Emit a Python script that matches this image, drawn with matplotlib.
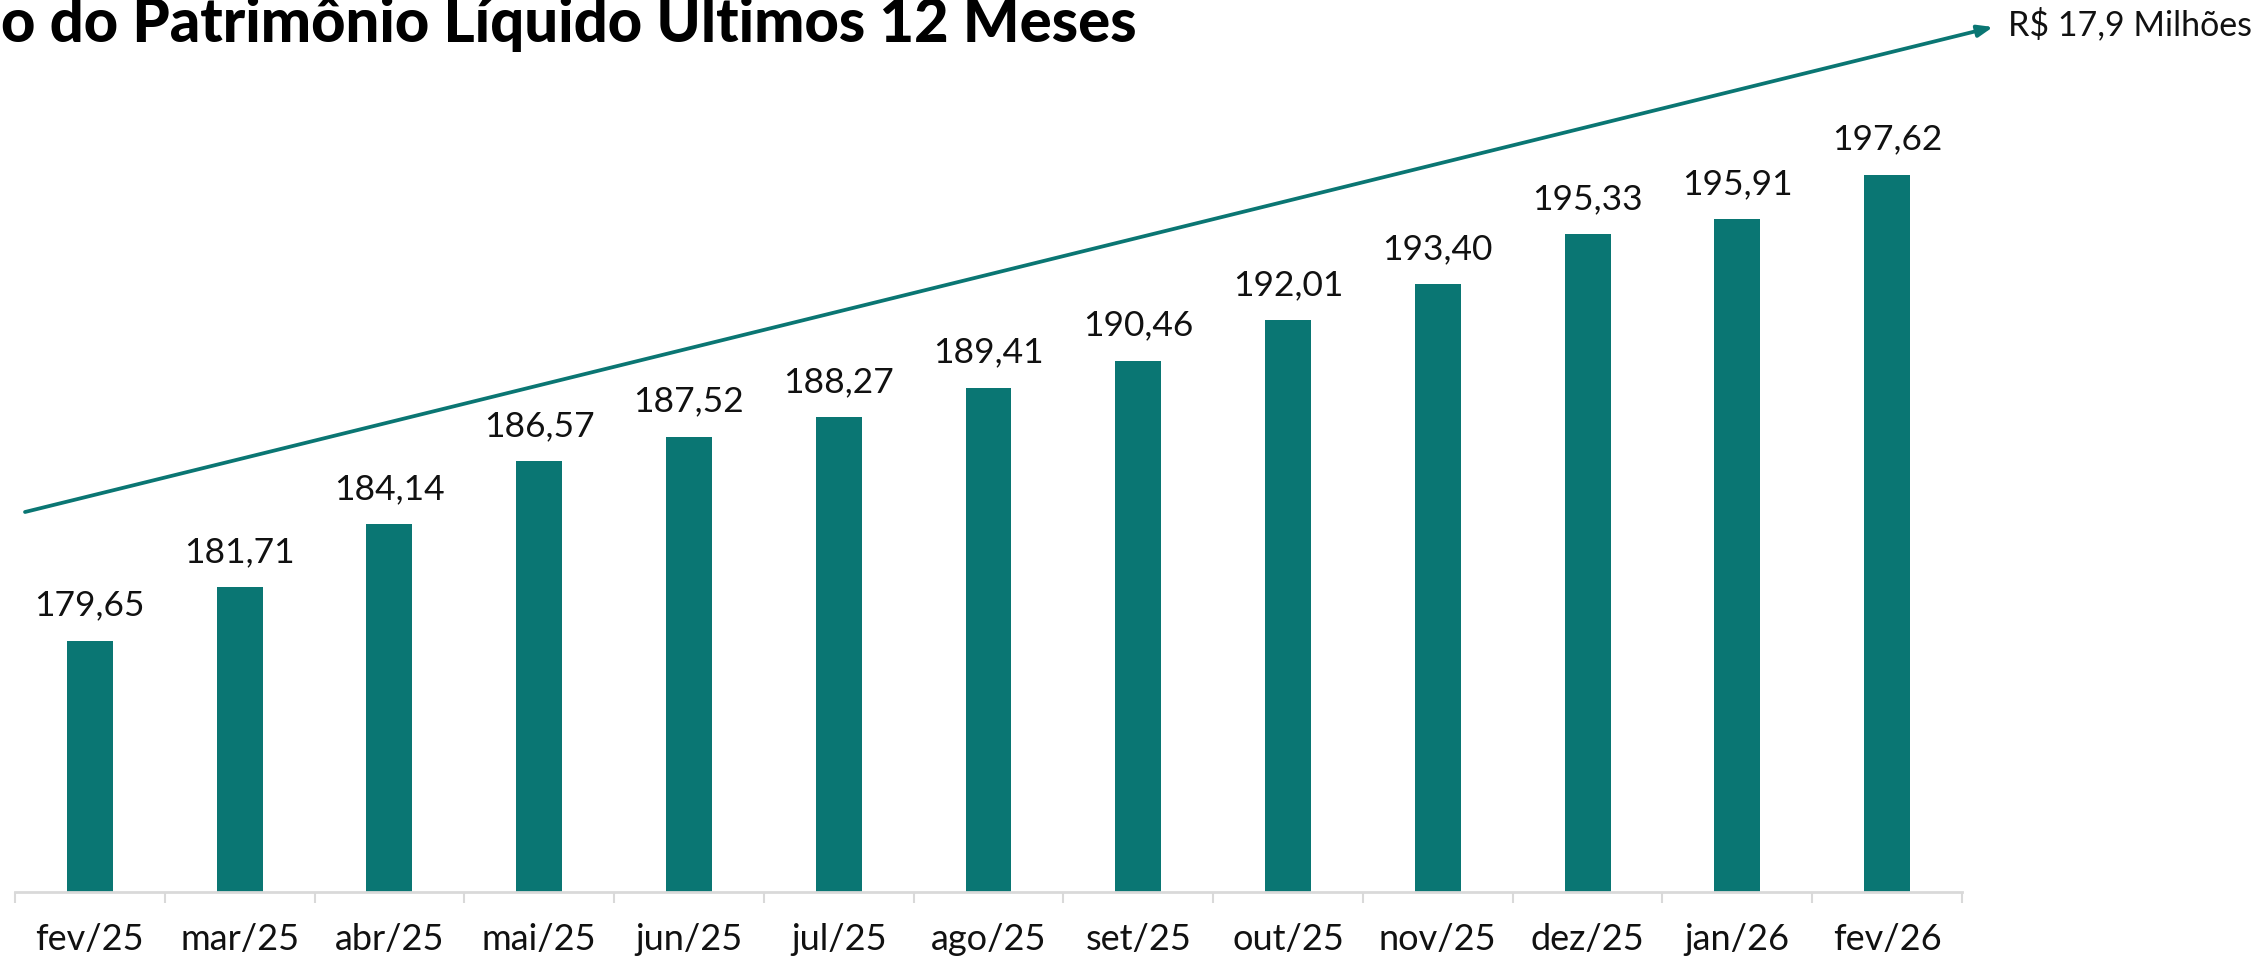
import numpy as np
import matplotlib.pyplot as plt
from matplotlib.ticker import FixedLocator

plt.rcParams['font.family'] = ['Lato', 'DejaVu Sans']

meses = ["fev/25", "mar/25", "abr/25", "mai/25", "jun/25", "jul/25", "ago/25",
         "set/25", "out/25", "nov/25", "dez/25", "jan/26", "fev/26"]
pl = [179.65, 181.71, 184.14, 186.57, 187.52, 188.27, 189.41,
      190.46, 192.01, 193.40, 195.33, 195.91, 197.62]
titulo = "o do Patrimônio Líquido Últimos 12 Meses"
destaque = "R$ 17,9 Milhões"

cor = "#0A7673"
W, H = 2263, 960

fig = plt.figure(figsize=(W / 100, H / 100), dpi=100)
ax = fig.add_axes([15 / W, 68 / H, (1962 - 15) / W, (H - 68) / H])

x = np.arange(len(meses))
ax.bar(x, pl, width=0.307, color=cor, zorder=2)
ax.set_xlim(-0.5, len(meses) - 0.5)
ax.set_ylim(169.955, 204.37)

for xi, v in zip(x, pl):
    ax.annotate(f"{v:.2f}".replace(".", ","), (xi, v), xytext=(0, 14),
                textcoords="offset points", ha="center", va="bottom",
                fontsize=25.5, color="#111111")

for s in ["top", "right", "left"]:
    ax.spines[s].set_visible(False)
ax.spines["bottom"].set_color("#D9D9D9")
ax.spines["bottom"].set_linewidth(2.0)
ax.set_yticks([])
ax.set_xticks(x)
ax.set_xticklabels(meses, fontsize=26, color="#111111")
ax.tick_params(axis="x", which="major", length=0, pad=22)
ax.xaxis.set_minor_locator(FixedLocator(np.arange(-0.5, len(meses), 1.0)))
ax.tick_params(axis="x", which="minor", length=8, width=1.5, color="#D9D9D9")

# seta de crescimento
ax.annotate("", xy=(1993 / W, 1 - 27 / H), xycoords="figure fraction",
            xytext=(25 / W, 1 - 512 / H), textcoords="figure fraction",
            arrowprops=dict(arrowstyle="-|>,head_length=0.9,head_width=0.35",
                            color=cor, lw=2.7, shrinkA=0, shrinkB=0))
fig.text(2008 / W, 1 - 35 / H, destaque, fontsize=24.5, color="#111111",
         ha="left", va="baseline")

# titulo (cortado na borda esquerda como no original)
fig.text(1 / W, 1 - 42 / H, titulo, fontsize=43, fontweight="black",
         color="#000000", ha="left", va="baseline")

fig.savefig("out.png", dpi=100)
